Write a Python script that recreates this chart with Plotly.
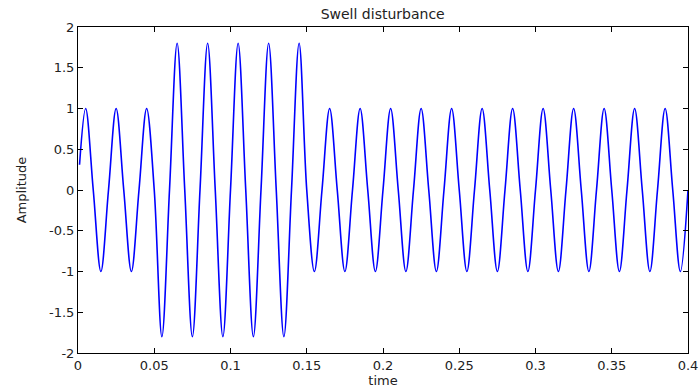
import plotly.graph_objects as go

# Signal samples (zero crossings and extrema)
time_s = [0.001, 0.005, 0.010, 0.015, 0.020, 0.025, 0.030, 0.035, 0.040, 0.045,
          0.050, 0.055, 0.060, 0.065, 0.070, 0.075, 0.080, 0.085, 0.090, 0.095,
          0.100, 0.105, 0.110, 0.115, 0.120, 0.125, 0.130, 0.135, 0.140, 0.145,
          0.150, 0.155, 0.160, 0.165, 0.170, 0.175, 0.180, 0.185, 0.190, 0.195,
          0.200, 0.205, 0.210, 0.215, 0.220, 0.225, 0.230, 0.235, 0.240, 0.245,
          0.250, 0.255, 0.260, 0.265, 0.270, 0.275, 0.280, 0.285, 0.290, 0.295,
          0.300, 0.305, 0.310, 0.315, 0.320, 0.325, 0.330, 0.335, 0.340, 0.345,
          0.350, 0.355, 0.360, 0.365, 0.370, 0.375, 0.380, 0.385, 0.390, 0.395,
          0.400]
amplitude = [0.31, 1, 0, -1, 0, 1, 0, -1, 0, 1,
             0, -1.8, 0, 1.8, 0, -1.8, 0, 1.8, 0, -1.8,
             0, 1.8, 0, -1.8, 0, 1.8, 0, -1.8, 0, 1.8,
             0, -1, 0, 1, 0, -1, 0, 1, 0, -1,
             0, 1, 0, -1, 0, 1, 0, -1, 0, 1,
             0, -1, 0, 1, 0, -1, 0, 1, 0, -1,
             0, 1, 0, -1, 0, 1, 0, -1, 0, 1,
             0, -1, 0, 1, 0, -1, 0, 1, 0, -1,
             0]

x_ticks = [0, 0.05, 0.1, 0.15, 0.2, 0.25, 0.3, 0.35, 0.4]
x_ticktext = ["0", "0.05", "0.1", "0.15", "0.2", "0.25", "0.3", "0.35", "0.4"]
y_ticks = [-2, -1.5, -1, -0.5, 0, 0.5, 1, 1.5, 2]
y_ticktext = ["-2", "-1.5", "-1", "-0.5", "0", "0.5", "1", "1.5", "2"]

font_family = "DejaVu Sans"

fig = go.Figure()
fig.add_trace(go.Scatter(
    x=time_s, y=amplitude, mode="lines",
    line=dict(color="#0000ff", width=1.6, shape="spline", smoothing=1.0),
    showlegend=False, hoverinfo="skip",
))

axis_common = dict(
    showline=True, linecolor="black", linewidth=1, mirror="ticks",
    ticks="inside", ticklen=5, tickcolor="black", tickwidth=1,
    showgrid=False, zeroline=False,
    tickfont=dict(family=font_family, size=13, color="#222222"),
)

fig.update_layout(
    width=700, height=392,
    margin=dict(l=78, r=12, t=27, b=39),
    paper_bgcolor="white", plot_bgcolor="white",
    title=dict(text="Swell disturbance", x=0.5467, xanchor="center",
               y=0.965, yanchor="middle",
               font=dict(family=font_family, size=14, color="#222222")),
    xaxis=dict(range=[0, 0.4], tickvals=x_ticks, ticktext=x_ticktext,
               title=dict(text="time", standoff=2,
                          font=dict(family=font_family, size=13, color="#222222")),
               automargin=False, **axis_common),
    yaxis=dict(range=[-2, 2], tickvals=y_ticks, ticktext=y_ticktext,
               title=dict(text="Amplitude", standoff=19,
                          font=dict(family=font_family, size=13, color="#222222")),
               automargin=False, **axis_common),
)

fig.write_html("out.html")
